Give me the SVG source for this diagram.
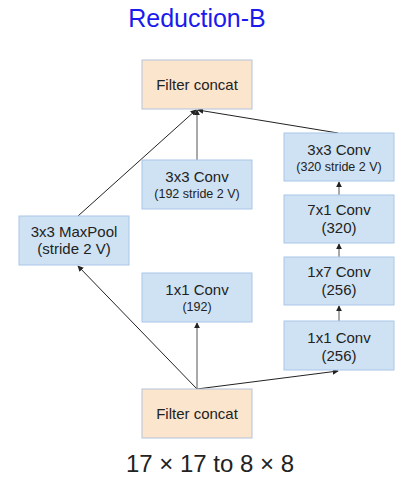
<svg xmlns="http://www.w3.org/2000/svg" width="412" height="487" viewBox="0 0 412 487">
<style>
.b{fill:#cfe2f3;stroke:#a9c6e8;stroke-width:1}
.p{fill:#fce5cd;stroke:#b4c3dc;stroke-width:1}
text{font-family:"Liberation Sans",Arial,sans-serif;fill:#222;text-anchor:middle}
.l{font-size:15px}
.s{font-size:12.5px}
.c{stroke:#222;stroke-width:1;fill:none;marker-end:url(#a)}
.g{stroke:#555;stroke-width:1;fill:none;marker-end:url(#a)}
</style>
<defs>
<marker id="a" viewBox="0 0 8 8" refX="7" refY="4" markerWidth="6" markerHeight="6" orient="auto" markerUnits="userSpaceOnUse">
<path d="M0,0 L8,4 L0,8 z" fill="#222"/>
</marker>
</defs>
<rect width="412" height="487" fill="#fff"/>
<text x="197" y="27" style="font-size:25px;fill:#1a1aee">Reduction-B</text>
<g id="connectors">
<line class="c" x1="197" y1="389" x2="78" y2="266"/>
<line class="g" x1="197" y1="389" x2="197" y2="323"/>
<line class="c" x1="197" y1="389" x2="338" y2="371"/>
<line class="c" x1="78" y1="216" x2="196" y2="110"/>
<line class="g" x1="197" y1="160" x2="197" y2="110"/>
<line class="c" x1="338" y1="133" x2="198" y2="110"/>
<line class="g" x1="339" y1="321" x2="339" y2="306"/>
<line class="g" x1="339" y1="257" x2="339" y2="244"/>
<line class="g" x1="339" y1="195" x2="339" y2="182"/>
</g>
<g id="concat_top"><rect class="p" x="142" y="60" width="110" height="49"/><text class="l" x="197" y="90">Filter concat</text></g>
<g id="maxpool"><rect class="b" x="19" y="216" width="110" height="49"/><text class="l" x="74" y="237">3x3 MaxPool</text><text class="l" x="74" y="254">(stride 2 V)</text></g>
<g id="conv3x3_mid"><rect class="b" x="142" y="160" width="110" height="49"/><text class="l" x="197" y="182">3x3 Conv</text><text class="s" x="197" y="198">(192 stride 2 V)</text></g>
<g id="conv1x1_192"><rect class="b" x="142" y="273" width="110" height="49"/><text class="l" x="197" y="295">1x1 Conv</text><text class="s" x="197" y="311">(192)</text></g>
<g id="conv3x3_right"><rect class="b" x="284" y="133" width="110" height="48"/><text class="l" x="339" y="155">3x3 Conv</text><text class="s" x="339" y="171">(320 stride 2 V)</text></g>
<g id="conv7x1"><rect class="b" x="284" y="195" width="110" height="48"/><text class="l" x="339" y="215">7x1 Conv</text><text class="l" x="339" y="233">(320)</text></g>
<g id="conv1x7"><rect class="b" x="284" y="257" width="110" height="48"/><text class="l" x="339" y="277">1x7 Conv</text><text class="l" x="339" y="295">(256)</text></g>
<g id="conv1x1_256"><rect class="b" x="284" y="321" width="110" height="49"/><text class="l" x="339" y="343">1x1 Conv</text><text class="l" x="339" y="361">(256)</text></g>
<g id="concat_bottom"><rect class="p" x="142" y="389" width="110" height="49"/><text class="l" x="197" y="419">Filter concat</text></g>
<text x="210" y="472" style="font-size:24px">17 × 17 to 8 × 8</text>
</svg>
